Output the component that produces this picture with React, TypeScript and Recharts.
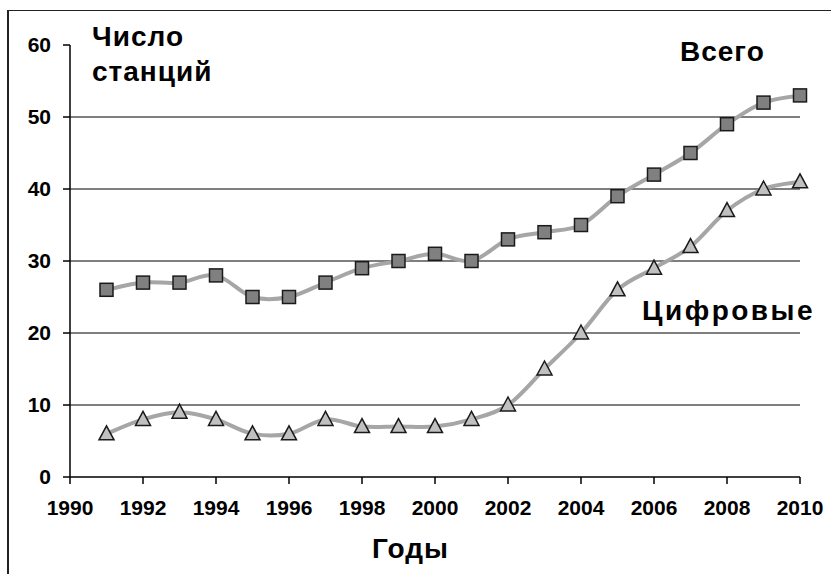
import React from 'react';
import { LineChart, Line, XAxis, YAxis, ReferenceLine } from 'recharts';

const years = [1991, 1992, 1993, 1994, 1995, 1996, 1997, 1998, 1999, 2000, 2001, 2002, 2003, 2004, 2005, 2006, 2007, 2008, 2009, 2010];
const total = [26, 27, 27, 28, 25, 25, 27, 29, 30, 31, 30, 33, 34, 35, 39, 42, 45, 49, 52, 53];
const digital = [6, 8, 9, 8, 6, 6, 8, 7, 7, 7, 8, 10, 15, 20, 26, 29, 32, 37, 40, 41];
const xTicks = [1990, 1992, 1994, 1996, 1998, 2000, 2002, 2004, 2006, 2008, 2010];
const yTicks = [0, 10, 20, 30, 40, 50, 60];
const gridLines = [10, 20, 30, 40, 50];

const data = years.map((year, i) => ({ year, total: total[i], digital: digital[i] }));

const FONT = '"Liberation Sans", Arial, sans-serif';

// Excel-style smoothing (Catmull-Rom through the points)
const smooth: any = (context: any) => {
  let pts: number[][] = [];
  return {
    areaStart() {},
    areaEnd() {},
    lineStart() {
      pts = [];
    },
    point(x: number, y: number) {
      pts.push([x, y]);
    },
    lineEnd() {
      if (!pts.length) return;
      context.moveTo(pts[0][0], pts[0][1]);
      const t = 1 / 6;
      for (let i = 0; i < pts.length - 1; i++) {
        const p0 = pts[i - 1] || pts[i];
        const p1 = pts[i];
        const p2 = pts[i + 1];
        const p3 = pts[i + 2] || p2;
        context.bezierCurveTo(
          p1[0] + (p2[0] - p0[0]) * t,
          p1[1] + (p2[1] - p0[1]) * t,
          p2[0] - (p3[0] - p1[0]) * t,
          p2[1] - (p3[1] - p1[1]) * t,
          p2[0],
          p2[1]
        );
      }
    },
  };
};

const SquareDot = (props: any) => {
  const { cx, cy, index } = props;
  if (cx == null || cy == null) return null;
  return <rect key={`s-${index}`} x={cx - 6.5} y={cy - 6.5} width={13} height={13} fill="#808080" stroke="#1a1a1a" strokeWidth={1.5} />;
};

const TriangleDot = (props: any) => {
  const { cx, cy, index } = props;
  if (cx == null || cy == null) return null;
  return (
    <polygon
      key={`t-${index}`}
      points={`${cx},${cy - 8} ${cx - 7.5},${cy + 6} ${cx + 7.5},${cy + 6}`}
      fill="#c0c0c0"
      stroke="#1a1a1a"
      strokeWidth={1.5}
    />
  );
};

const tickStyle = { fontFamily: FONT, fontSize: 21, fontWeight: 700, fill: '#000' };

const label = (left: number, top: number, spacing = 1): React.CSSProperties => ({
  position: 'absolute',
  left,
  top,
  fontFamily: FONT,
  fontWeight: 700,
  fontSize: 28,
  letterSpacing: spacing,
  lineHeight: 1.25,
  color: '#000',
  whiteSpace: 'pre',
});

export default function App() {
  return (
    <div style={{ position: 'absolute', left: 0, top: 0, width: 831, height: 574, background: '#fff', overflow: 'hidden' }}>
      <div style={{ position: 'absolute', left: 7, top: 10, width: 840, height: 600, borderLeft: '2px solid #222', borderTop: '1px solid #222' }} />
      <LineChart width={831} height={574} data={data} margin={{ top: 45, right: 31, bottom: 0, left: 0 }}>
        <XAxis
          dataKey="year"
          type="number"
          domain={[1990, 2010]}
          ticks={xTicks}
          interval={0}
          height={97}
          tickSize={7}
          tickMargin={16}
          tick={tickStyle}
          axisLine={{ stroke: '#000', strokeWidth: 1.5 }}
          tickLine={{ stroke: '#000', strokeWidth: 1.5 }}
        />
        <YAxis
          type="number"
          domain={[0, 60]}
          ticks={yTicks}
          interval={0}
          width={70}
          tickSize={7}
          tickMargin={12}
          tick={tickStyle}
          axisLine={{ stroke: '#000', strokeWidth: 1.5 }}
          tickLine={{ stroke: '#000', strokeWidth: 1.5 }}
        />
        {gridLines.map((v) => (
          <ReferenceLine key={v} y={v} stroke="#000" strokeWidth={1.2} />
        ))}
        <Line dataKey="total" type={smooth} stroke="#a6a6a6" strokeWidth={4} dot={SquareDot} activeDot={false} isAnimationActive={false} />
        <Line dataKey="digital" type={smooth} stroke="#a6a6a6" strokeWidth={4} dot={TriangleDot} activeDot={false} isAnimationActive={false} />
      </LineChart>
      <div style={label(92, 19)}>{'Число\nстанций'}</div>
      <div style={label(680, 34)}>Всего</div>
      <div style={label(642, 293, 2.5)}>Цифровые</div>
      <div style={label(372, 531)}>Годы</div>
    </div>
  );
}
